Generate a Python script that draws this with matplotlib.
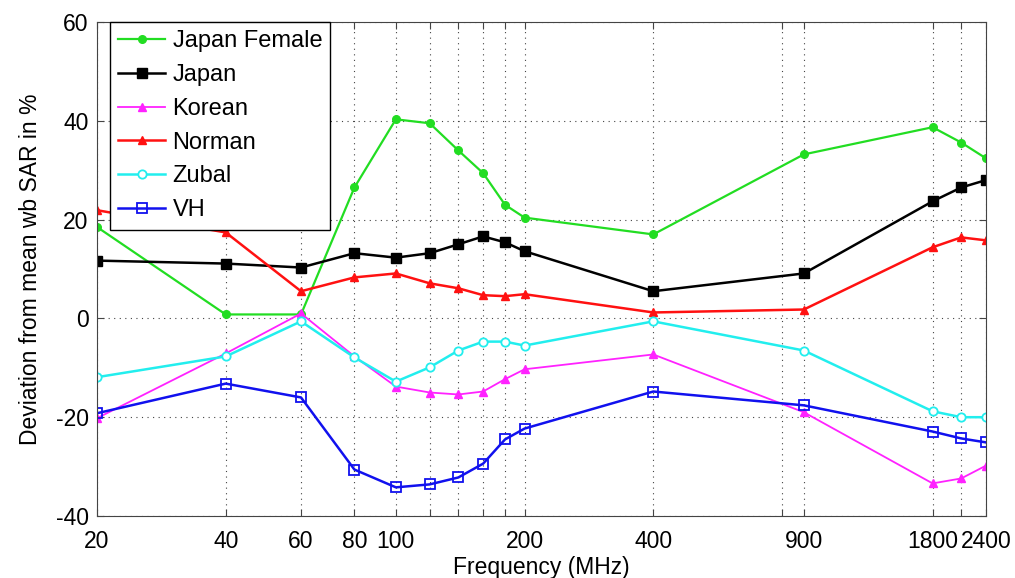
import matplotlib
matplotlib.use("Agg")
import matplotlib.pyplot as plt
from matplotlib.ticker import FixedLocator, FixedFormatter, NullLocator

plt.rcParams['font.family'] = ['Liberation Sans', 'DejaVu Sans']
plt.rcParams['axes.unicode_minus'] = False

freq = [20, 40, 60, 80, 100, 120, 140, 160, 180, 200, 400, 900, 1800, 2100, 2400]
japan_female = [18.5, 0.8, 0.8, 26.5, 40.3, 39.5, 34.0, 29.4, 23.0, 20.4, 17.0, 33.2, 38.7, 35.6, 32.4]
japan = [11.7, 11.1, 10.3, 13.2, 12.3, 13.2, 15.0, 16.6, 15.4, 13.6, 5.5, 9.1, 23.7, 26.5, 28.0]
korean = [-20.2, -7.1, 1.0, -7.7, -13.8, -15.0, -15.4, -14.8, -12.3, -10.3, -7.3, -19.0, -33.4, -32.4, -29.8]
norman = [21.9, 17.4, 5.5, 8.3, 9.1, 7.1, 6.1, 4.7, 4.5, 4.9, 1.2, 1.8, 14.4, 16.4, 15.8]
zubal = [-11.9, -7.7, -0.6, -7.9, -12.8, -9.9, -6.5, -4.7, -4.7, -5.5, -0.6, -6.5, -18.8, -20.0, -20.0]
vh = [-19.2, -13.2, -16.0, -30.6, -34.2, -33.6, -32.2, -29.4, -24.5, -22.3, -14.8, -17.6, -22.9, -24.3, -25.1]

grid_ticks = [20, 40, 60, 80, 100, 120, 140, 160, 180, 200, 400, 800, 900, 1800, 2100, 2400]
labeled = {20: '20', 40: '40', 60: '60', 80: '80', 100: '100', 200: '200', 400: '400',
           900: '900', 1800: '1800', 2400: '2400'}
yticks = [-40, -20, 0, 20, 40, 60]

fig = plt.figure(figsize=(10.15, 5.78), dpi=100)
ax = fig.add_axes([97/1015, 1 - 516/578, (986-97)/1015, (516-22)/578])

ax.plot(freq, japan_female, '-o', color='#22dd22', ms=5.5, lw=1.6, label='Japan Female')
ax.plot(freq, japan, '-s', color='black', ms=7, lw=1.8, label='Japan')
ax.plot(freq, korean, '-^', color='#ff22ff', ms=5.5, lw=1.3, label='Korean')
ax.plot(freq, norman, '-^', color='#ff1111', ms=6, lw=1.8, label='Norman')
ax.plot(freq, zubal, '-o', color='#22eeee', ms=6, lw=1.8, mfc='white', mew=1.3, label='Zubal')
ax.plot(freq, vh, '-s', color='#1111ee', ms=7, lw=1.8, mfc='none', mew=1.3, label='VH')

ax.set_xscale('log')
ax.set_xlim(20, 2400)
ax.set_ylim(-40, 60)
ax.xaxis.set_major_locator(FixedLocator(grid_ticks))
ax.xaxis.set_major_formatter(FixedFormatter([labeled.get(t, '') for t in grid_ticks]))
ax.xaxis.set_minor_locator(NullLocator())
ax.set_yticks(yticks)
ax.grid(True, linestyle=(0, (1, 4)), color='#444444', lw=0.8)
ax.tick_params(direction='in', length=5, labelsize=16.5, top=True, right=True,
               color='#444444')
ax.tick_params(axis='x', pad=10)
ax.tick_params(axis='y', pad=6)
for s in ax.spines.values():
    s.set_color('#444444')
ax.set_xlabel('Frequency (MHz)', fontsize=16.5, labelpad=2)
ax.set_ylabel('Deviation from mean wb SAR in %', fontsize=16.5, labelpad=10)

leg = ax.legend(loc='upper left', bbox_to_anchor=(13/889, 1.0), fontsize=17,
                fancybox=False, edgecolor='black', framealpha=1,
                handlelength=2.0, handletextpad=0.3, borderaxespad=0,
                borderpad=0.35, labelspacing=0.5)
leg.get_frame().set_linewidth(1.0)

fig.savefig('out.png', dpi=100)
